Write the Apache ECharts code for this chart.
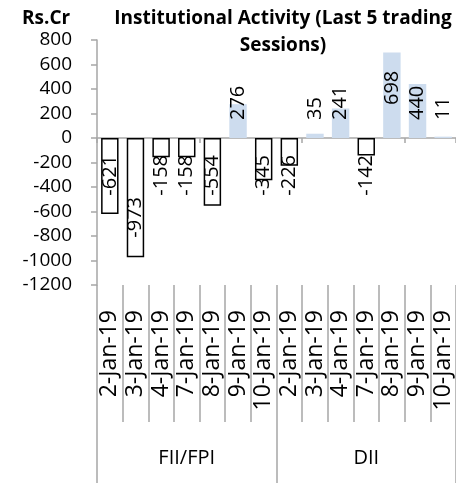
<!DOCTYPE html>
<html>
<head>
<meta charset="utf-8">
<script src="https://cdn.jsdelivr.net/npm/echarts@6/dist/echarts.min.js"></script>
<style>
html,body{margin:0;padding:0;background:#fff;}
#c{width:456px;height:483px;}
</style>
</head>
<body>
<div id="c"></div>
<script>
const dates = ['2-Jan-19','3-Jan-19','4-Jan-19','7-Jan-19','8-Jan-19','9-Jan-19','10-Jan-19',
               '2-Jan-19','3-Jan-19','4-Jan-19','7-Jan-19','8-Jan-19','9-Jan-19','10-Jan-19'];
const groups = ['FII/FPI', 'DII'];
const values = [-621, -973, -158, -158, -554, 276, -345, -226, 35, 241, -142, 698, 440, 11];
const yTicks = { min: -1200, max: 800, interval: 200 };

const FONT = '"Open Sans"';
const categories = dates.map((d, i) => i + '|' + d);

// label distances (pixels from zero line), with a couple of exceptions
const labelDist = values.map((v, i) => {
  if (v === -973) return 59;
  if (v === 698) return 33;
  return v < 0 ? 17 : 18;
});

const data = values.map((v, i) => {
  const neg = v < 0;
  return {
    value: v,
    itemStyle: neg
      ? { color: '#ffffff', borderColor: '#000000', borderWidth: 1.5 }
      : { color: '#cddcee', borderWidth: 0 },
    label: {
      show: true,
      position: neg ? 'insideTop' : 'insideBottom',
      distance: labelDist[i],
      rotate: 90,
      align: neg ? 'right' : 'left',
      verticalAlign: 'middle',
      fontFamily: FONT,
      fontSize: 20,
      color: '#000'
    }
  };
});

const chart = echarts.init(document.getElementById('c'), null, { renderer: 'canvas' });
chart.setOption({
  animation: false,
  backgroundColor: '#fff',
  title: [
    { text: 'Rs.Cr', left: 17, top: 4,
      textStyle: { fontFamily: FONT, fontWeight: 'bold', fontSize: 19, color: '#000' } },
    { text: 'Institutional Activity (Last 5 trading\nSessions)', left: 278, top: 0, textAlign: 'center',
      textStyle: { fontFamily: FONT, fontWeight: 'bold', fontSize: 19, lineHeight: 27, color: '#000' } }
  ],
  grid: { left: 97, top: 40, right: -2, bottom: 198, containLabel: false },
  xAxis: [
    { type: 'category', data: categories, position: 'bottom',
      axisLine: { onZero: true, lineStyle: { color: '#a6a6a6', width: 1.5 } },
      axisTick: { show: true, length: 5, lineStyle: { color: '#a6a6a6', width: 1.5 } },
      axisLabel: { show: false }, splitLine: { show: false } },
    { type: 'category', data: categories, position: 'bottom',
      axisLine: { show: false, onZero: false },
      axisTick: { show: true, length: 137, lineStyle: { color: '#a6a6a6', width: 1.5 } },
      axisLabel: { show: true, rotate: 90, margin: 25, interval: 0, fontFamily: FONT, fontSize: 23, color: '#000',
        formatter: v => v.split('|')[1] },
      splitLine: { show: false } },
    { type: 'category', data: groups, position: 'bottom',
      axisLine: { show: false, onZero: false },
      axisTick: { show: true, length: 198, lineStyle: { color: '#a6a6a6', width: 1.5 } },
      axisLabel: { show: true, margin: 163, interval: 0, fontFamily: FONT, fontSize: 20, color: '#000' },
      splitLine: { show: false } }
  ],
  yAxis: {
    type: 'value', min: yTicks.min, max: yTicks.max, interval: yTicks.interval,
    axisLine: { show: true, lineStyle: { color: '#a6a6a6', width: 1.5 } },
    axisTick: { show: true, length: 6, lineStyle: { color: '#a6a6a6', width: 1.5 } },
    axisLabel: { fontFamily: FONT, fontSize: 19, color: '#000', margin: 25, formatter: v => String(v) },
    splitLine: { show: false }
  },
  series: [{
    type: 'bar', xAxisIndex: 0, data: data, barWidth: '68%'
  }]
});
</script>
</body>
</html>
